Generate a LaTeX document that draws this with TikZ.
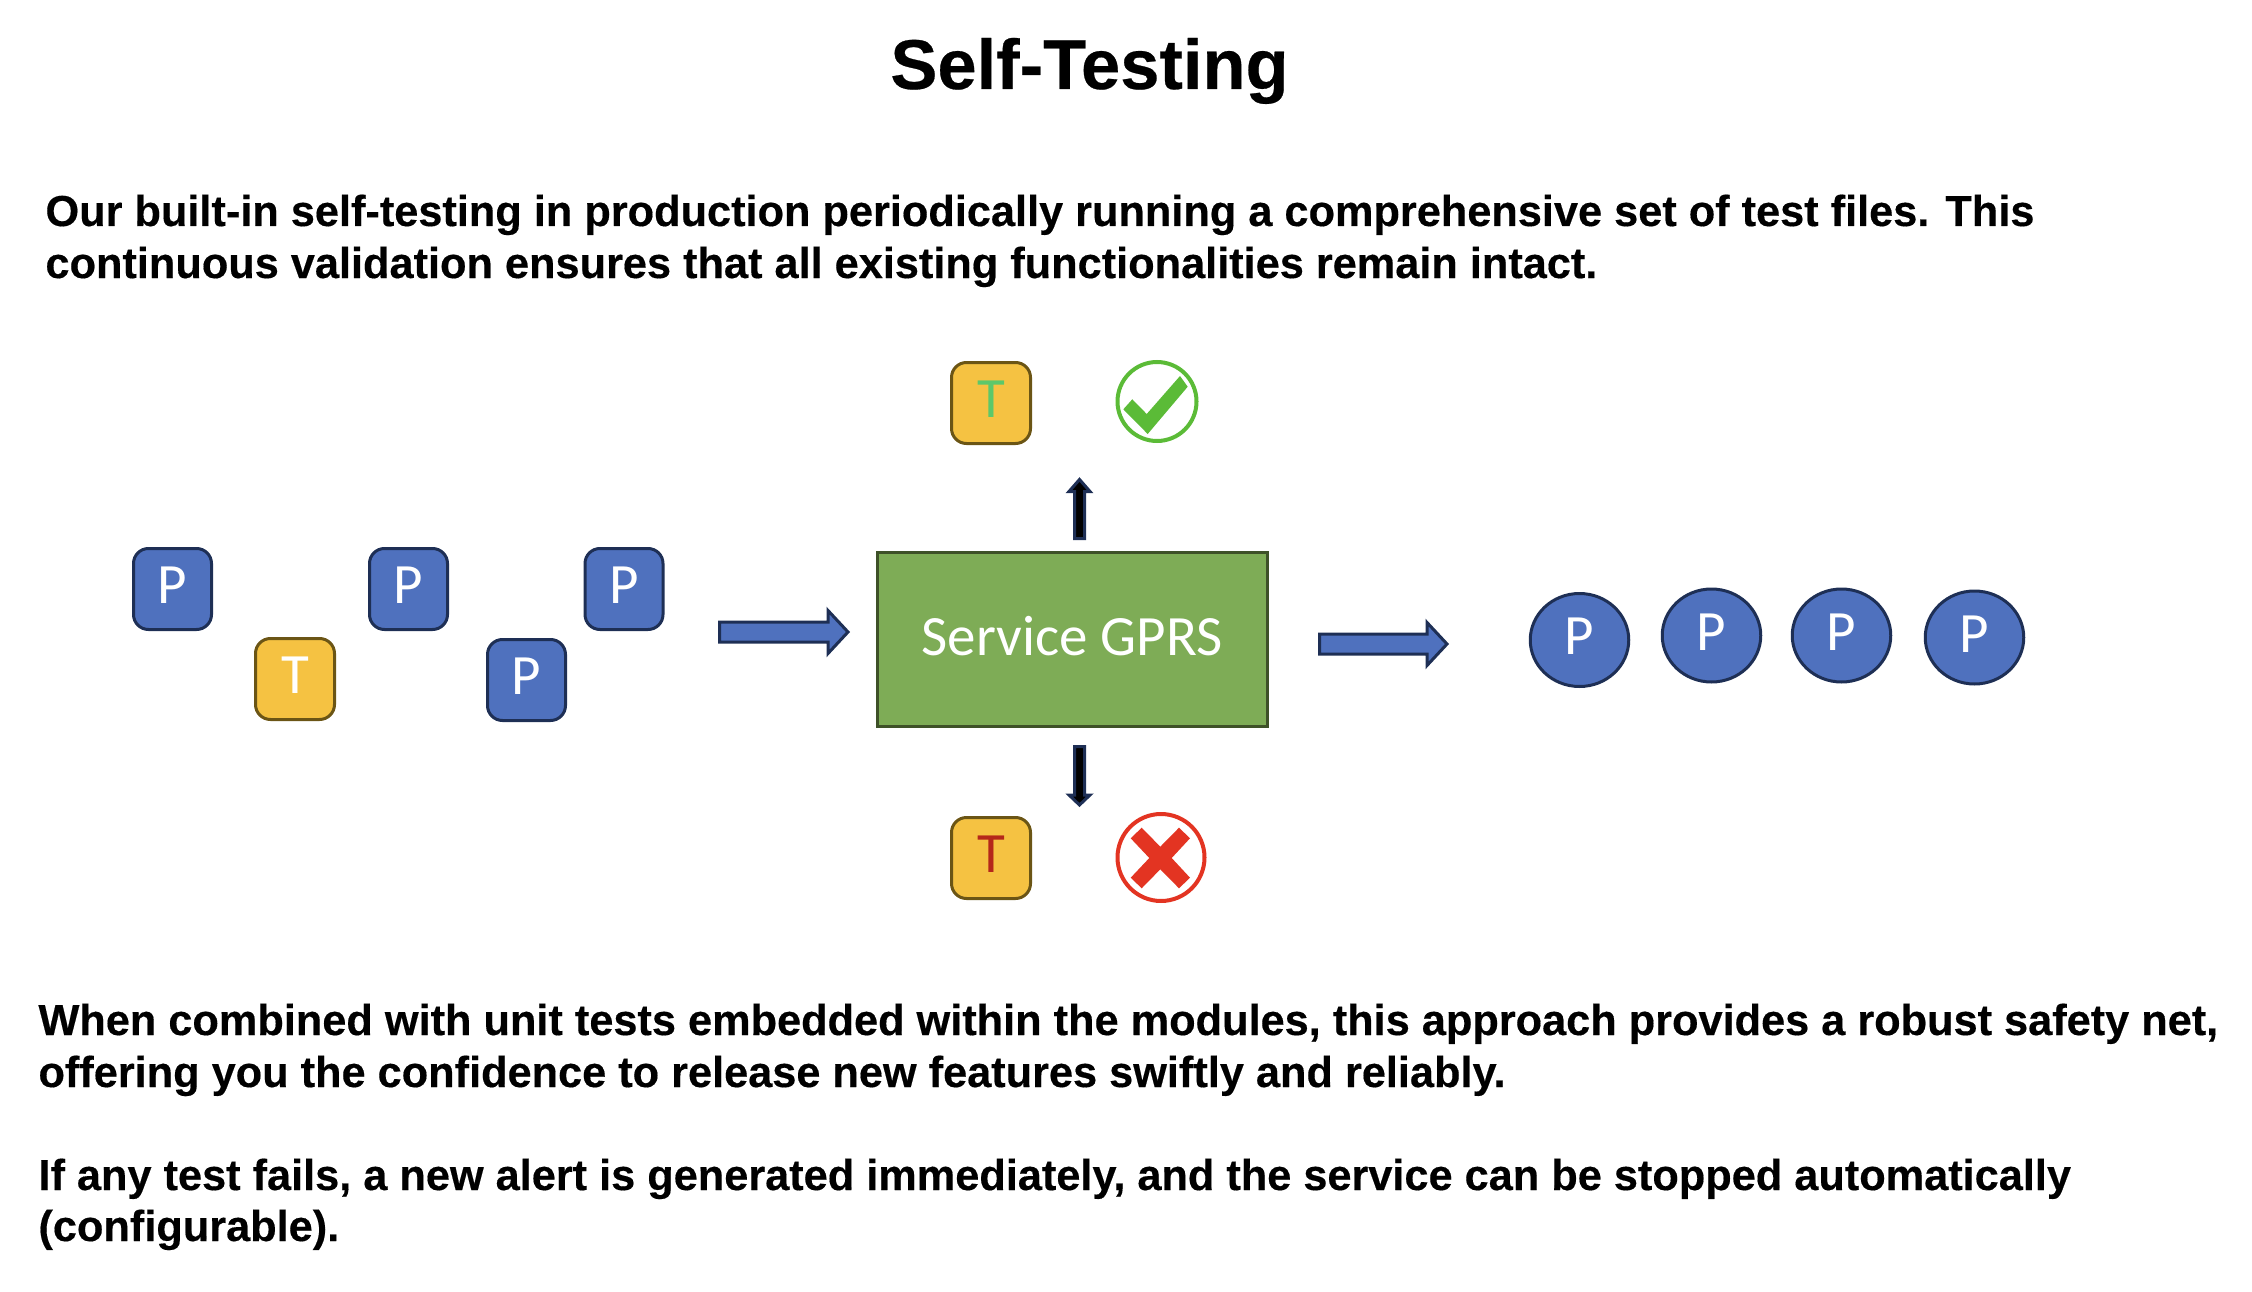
\documentclass[tikz,border=0pt]{standalone}
\usepackage{fontspec}
\setmainfont[BoldFeatures={FakeBold=0.35}]{Liberation Sans}
\newfontfamily\labelfont{Carlito}
\usetikzlibrary{calc,shapes.geometric}
\definecolor{pblue}{HTML}{4F71BE}
\definecolor{navy}{HTML}{1E2F55}
\definecolor{tyellow}{HTML}{F5C242}
\definecolor{tedge}{HTML}{6B5515}
\definecolor{sgreen}{HTML}{7EAC56}
\definecolor{sedge}{HTML}{3E5128}
\definecolor{okgreen}{HTML}{5BBB37}
\definecolor{okT}{HTML}{5CC86A}
\definecolor{badred}{HTML}{E33422}
\definecolor{badT}{HTML}{B5271A}
\tikzset{
  x=1pt,y=-1pt,
  every node/.style={inner sep=0pt,outer sep=0pt},
  letter/.style={font=\labelfont\fontsize{57}{57}\selectfont,text depth=7pt},
  pbox/.style={letter,draw=navy,fill=pblue,line width=3pt,rounded corners=15pt,minimum width=78pt,minimum height=81pt,text=white},
  tbox/.style={letter,draw=tedge,fill=tyellow,line width=3pt,rounded corners=15pt,minimum width=79pt,minimum height=81pt,text=white},
  pell/.style={letter,ellipse,draw=navy,fill=pblue,line width=3pt,minimum width=98.5pt,minimum height=93pt,text=white},
  service/.style={draw=sedge,fill=sgreen,line width=3pt,minimum width=390pt,minimum height=174pt,text=white,text depth=7pt,font=\labelfont\fontsize{57}{57}\selectfont},
  ring/.style={circle,line width=4pt,fill=white},
  title/.style={font=\bfseries\fontsize{70.5}{70.5}\selectfont,anchor=base},
  body/.style={font=\bfseries\fontsize{43.3}{43.3}\selectfont,anchor=base west},
  fatarrow/.style={draw=navy,fill=pblue,line width=3pt,miter limit=10},
  thinarrow/.style={draw=navy,fill=black,line width=3pt,miter limit=10}
}
% style, from, to, half shaft, half head, head length
\newcommand{\blockarrow}[6]{%
  \coordinate (hb) at ($(#3)!#6pt!(#2)$);
  \draw[#1] ($(#2)!#4pt!90:(#3)$) -- ($(hb)!#4pt!90:(#3)$) -- ($(hb)!#5pt!90:(#3)$) -- (#3)
    -- ($(hb)!#5pt!-90:(#3)$) -- ($(hb)!#4pt!-90:(#3)$) -- ($(#2)!#4pt!-90:(#3)$) -- cycle;}
\begin{document}
\begin{tikzpicture}
\useasboundingbox (0,0) rectangle (2252,1292);
\node[title] (ttl) at (1089.5,89) {Self-Testing};
\node[body] (t1) at (45.5,226) {Our built-in self-testing in production periodically running a comprehensive set of test files. This};
\node[body] (t2) at (45.5,278) {continuous validation ensures that all existing functionalities remain intact.};
\node[body] (t3) at (38.5,1035) {When combined with unit tests embedded within the modules, this approach provides a robust safety net,};
\node[body] (t4) at (38.5,1087) {offering you the confidence to release new features swiftly and reliably.};
\node[body] (t5) at (38.5,1190) {If any test fails, a new alert is generated immediately, and the service can be stopped automatically};
\node[body] (t6) at (38.5,1241) {(configurable).};

\node[pbox] (p1) at (172.5,589) {P};
\node[tbox] (t0) at (295,679) {T};
\node[pbox] (p2) at (408.5,589) {P};
\node[pbox] (p4) at (526.5,680) {P};
\node[pbox] (p3) at (624,589) {P};

\node[service] (svc) at (1072,639) {Service GPRS};

\node[tbox,text=okT] (tok) at (991,403) {T};
\node[ring,draw=okgreen,minimum size=79pt] (ok) at (1157,401.5) {};
\fill[okgreen] (1123.3,409.3) -- (1132.3,399.3) -- (1146.7,414) -- (1180,376) -- (1187.7,386.7) -- (1147.7,434) -- cycle;

\node[tbox,text=badT] (tbad) at (991,858) {T};
\node[ring,draw=badred,minimum size=87pt] (bad) at (1161,857.5) {};
\fill[badred] (1141.7,827.7) -- (1160.3,846.7) -- (1179,827.7) -- (1190,838.3) -- (1171.7,858) -- (1190,877.7) -- (1179,888.3) -- (1160.3,869.3) -- (1141.7,888.3) -- (1130.7,877.7) -- (1149.3,858) -- (1130.7,838.3) -- cycle;

\node[pell] (e1) at (1579.5,640) {P};
\node[pell] (e2) at (1711.5,635.5) {P};
\node[pell] (e3) at (1841.5,635.5) {P};
\node[pell] (e4) at (1974.5,637.5) {P};

\coordinate (a1s) at (719.5,632);
\coordinate (a1e) at (848,632);
\coordinate (a2s) at (1319.5,644);
\coordinate (a2e) at (1447,644);
\coordinate (a3s) at (1079.5,538.5);
\coordinate (a3e) at (1079.5,479.5);
\coordinate (a4s) at (1079.5,746.5);
\coordinate (a4e) at (1079.5,805);
\blockarrow{fatarrow}{a1s}{a1e}{10}{21.5}{20}
\blockarrow{fatarrow}{a2s}{a2e}{10}{21.5}{20}
\blockarrow{thinarrow}{a3s}{a3e}{5}{10.5}{12}
\blockarrow{thinarrow}{a4s}{a4e}{5}{10.5}{10}
\end{tikzpicture}
\end{document}
